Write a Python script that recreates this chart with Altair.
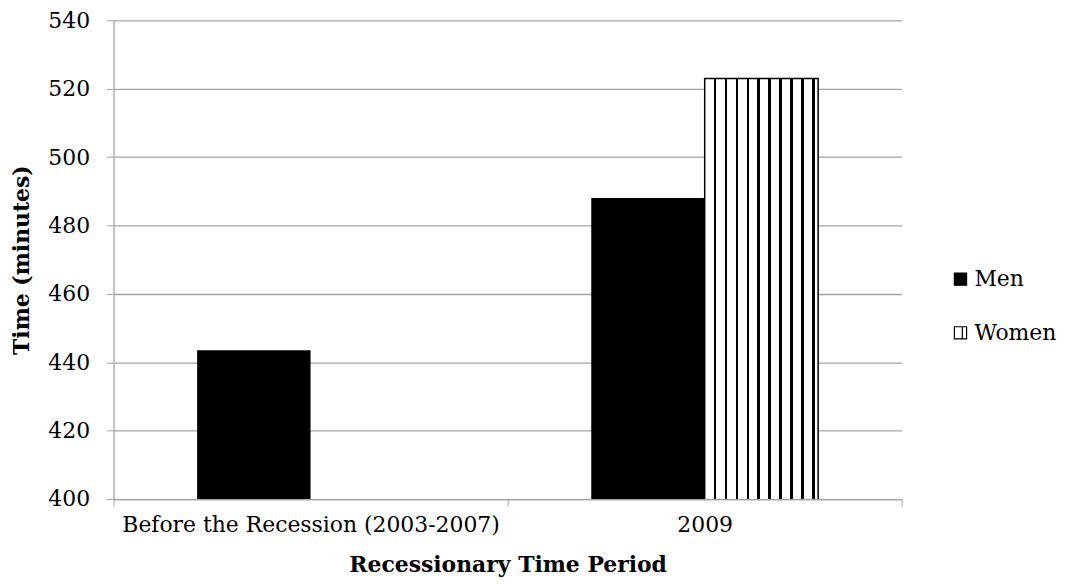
import altair as alt
import pandas as pd

periods = ["Before the Recession (2003-2007)", "2009"]
sexes = ["Men", "Women"]
men_minutes = [443.5, 488.0]
women_minutes = [None, 523.0]

rows = []
for p, m, w in zip(periods, men_minutes, women_minutes):
    if m is not None:
        rows.append({"Period": p, "Sex": "Men", "Minutes": m})
    if w is not None:
        rows.append({"Period": p, "Sex": "Women", "Minutes": w})
df = pd.DataFrame(rows)

FONT = "DejaVu Serif"
GRID = "#a3a3a3"
FS = 22

# vertical stripe fill for the Women bar (style only)
stops = [{"offset": 0, "color": "white"}]
half = 0.011
for i in range(10):
    c = 0.09 + i * 0.0965
    stops += [
        {"offset": c - half, "color": "white"},
        {"offset": c - half, "color": "black"},
        {"offset": c + half, "color": "black"},
        {"offset": c + half, "color": "white"},
    ]
stops.append({"offset": 1, "color": "white"})
stripes = {"gradient": "linear", "x1": 0, "x2": 1, "y1": 0, "y2": 0, "stops": stops}

x_enc = alt.X(
    "Period:N",
    sort=periods,
    scale=alt.Scale(paddingInner=0, paddingOuter=0),
    axis=alt.Axis(
        title="Recessionary Time Period",
        labelAngle=0,
        labelLimit=0,
        tickBand="extent",
        tickSize=7,
        tickColor=GRID,
        domainColor=GRID,
        domainWidth=1.3,
        labelPadding=9,
        titlePadding=19,
    ),
)
xoff_enc = alt.XOffset(
    "Sex:N", scale=alt.Scale(domain=sexes, paddingInner=0, paddingOuter=0.737)
)
y_enc = alt.Y(
    "Minutes:Q",
    scale=alt.Scale(domain=[400, 540], nice=False, zero=False),
    axis=alt.Axis(
        title="Time (minutes)",
        values=list(range(400, 541, 20)),
        tickSize=7,
        tickColor=GRID,
        domainColor=GRID,
        domainWidth=1.3,
        gridColor=GRID,
        gridWidth=1.3,
        labelPadding=17,
        titlePadding=14,
    ),
)

bars = alt.Chart(df).mark_bar(clip=True).encode(
    x=x_enc,
    xOffset=xoff_enc,
    y=y_enc,
    color=alt.Color(
        "Sex:N",
        scale=alt.Scale(domain=sexes, range=["black", "white"]),
        legend=alt.Legend(
            title=None,
            orient="none",
            legendX=840,
            legendY=249,
            symbolType="M-1,-1H1V1H-1Z M0.3,-1V1",
            symbolStrokeColor="black",
            symbolStrokeWidth=1.2,
            symbolSize=150,
            labelFont=FONT,
            labelFontSize=FS,
            labelColor="black",
            labelOffset=3,
            rowPadding=32,
        ),
    ),
)

women = (
    alt.Chart(df)
    .transform_filter(alt.datum.Sex == "Women")
    .mark_bar(clip=True, fill=stripes, stroke="black", strokeWidth=1.5)
    .encode(x=x_enc, xOffset=xoff_enc, y=y_enc)
)

chart = (
    alt.layer(bars, women)
    .properties(
        width=792,
        height=481,
        background="white",
        padding={"left": 3, "top": 0, "right": 5, "bottom": 5},
    )
    .configure_view(stroke=None)
    .configure_axis(
        labelFont=FONT,
        labelFontSize=FS,
        labelColor="black",
        titleFont=FONT,
        titleFontSize=FS,
        titleFontWeight="bold",
        titleColor="black",
        grid=False,
    )
    .configure_axisY(grid=True)
)

chart.save("out.html", embed_options={"renderer": "svg", "actions": False})
